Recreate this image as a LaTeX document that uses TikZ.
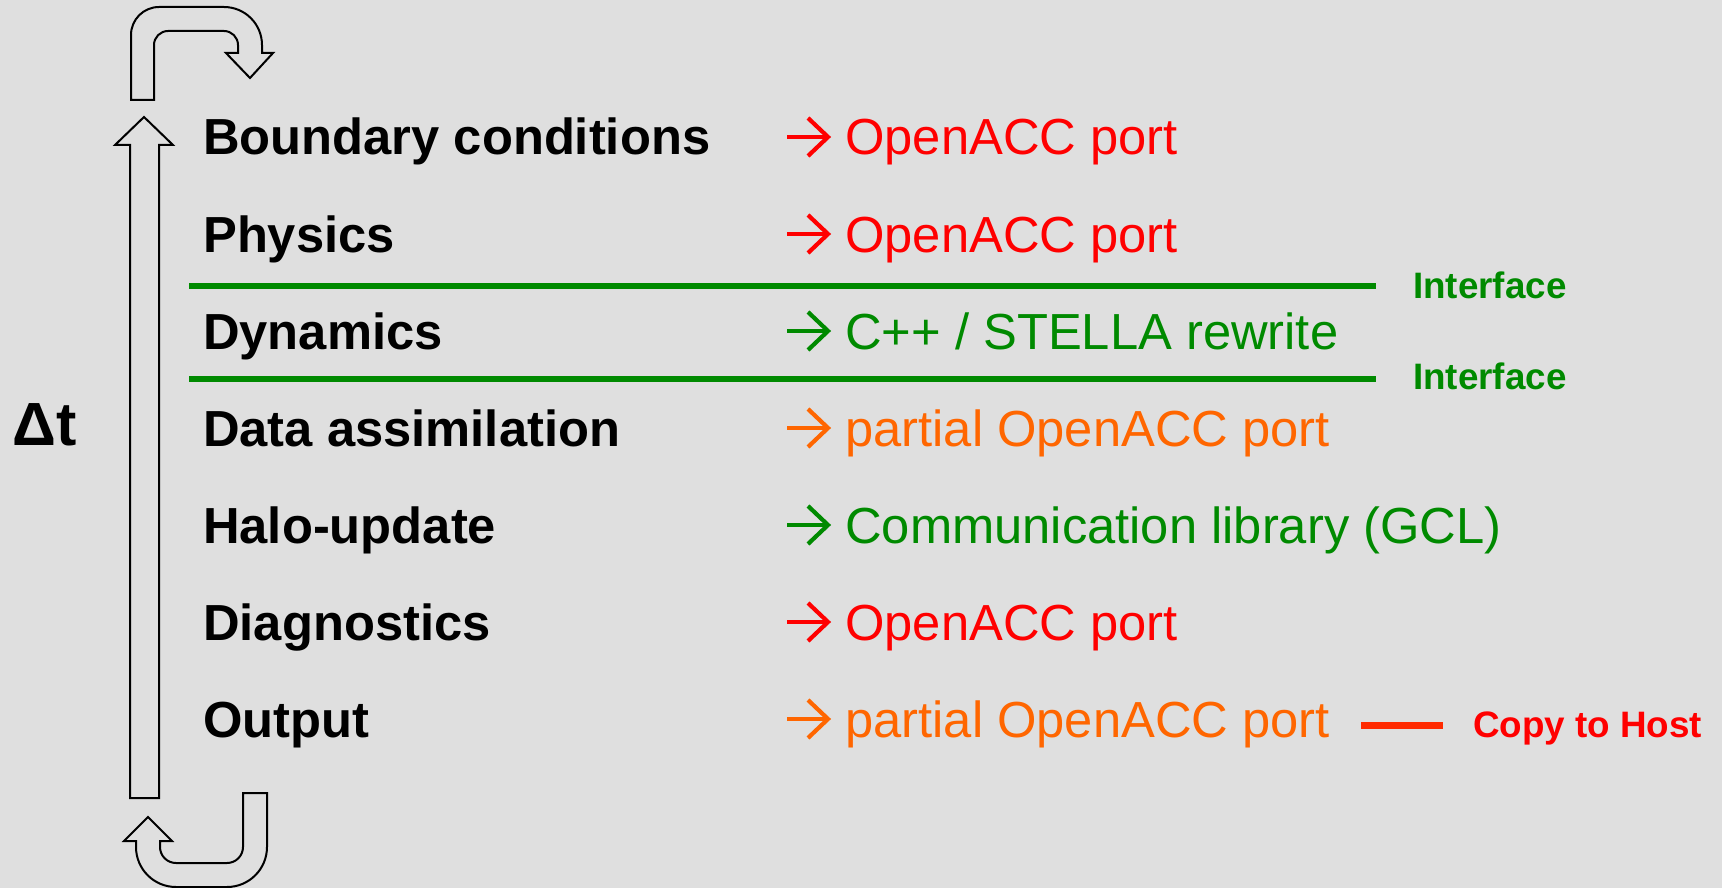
\documentclass[tikz,border=0pt]{standalone}
\usepackage{fontspec}
\setmainfont{Liberation Sans}
\definecolor{bg}{HTML}{DFDFDF}
\definecolor{cred}{HTML}{FF0000}
\definecolor{cgreen}{HTML}{008A00}
\definecolor{corange}{HTML}{FF6600}
\definecolor{cline}{HTML}{FF2A00}
\begin{document}
\begin{tikzpicture}[x=1pt,y=-1pt,
  lbl/.style={anchor=base west, inner sep=0pt, font=\fontsize{50.7}{60}\selectfont\bfseries},
  res/.style={anchor=base west, inner sep=0pt, font=\fontsize{50.7}{60}\selectfont},
  tag/.style={anchor=base west, inner sep=0pt, font=\fontsize{36.8}{44}\selectfont\bfseries},
  outl/.style={draw=black, line width=2pt, line join=miter},
  gline/.style={draw=cgreen, line width=6pt},
  rline/.style={draw=cline, line width=7pt},
  rarr/.pic={\draw[line width=4.2pt, line cap=butt, line join=miter] (0,0) -- (40,0);
             \draw[line width=4.2pt, line cap=butt, line join=miter] (21,-19) -- (41,0) -- (21,19);}]
\useasboundingbox[fill=bg] (0,0) rectangle (1722,888);

% loop arrows
\draw[outl] (130,798) -- (130,145) -- (115,145) -- (144,117) -- (173,145) -- (159,145) -- (159,798) -- cycle;
\draw[outl] (131,100) -- (131,35) arc[start angle=180, end angle=270, radius=28]
  -- (224,7) arc[start angle=270, end angle=360, radius=38]
  -- (262,53) -- (273,53) -- (250,78) -- (226,53) -- (238,53)
  -- (238,45) arc[start angle=0, end angle=-90, radius=14]
  -- (168,31) arc[start angle=270, end angle=180, radius=14]
  -- (154,100) -- cycle;
\draw[outl] (243,793) -- (267,793) -- (267,847) arc[start angle=0, end angle=90, radius=40]
  -- (176,887) arc[start angle=90, end angle=180, radius=40]
  -- (136,841) -- (124,841) -- (148,817) -- (172,841) -- (160,841)
  -- (160,847) arc[start angle=180, end angle=90, radius=16]
  -- (227,863) arc[start angle=90, end angle=0, radius=16] -- cycle;

\node[anchor=base west, inner sep=0pt, font=\fontsize{61}{70}\selectfont\bfseries] (dt) at (12,445) {Δt};

% left labels
\node[lbl] (b1) at (203,155) {Boundary conditions};
\node[lbl] (b2) at (203,252) {Physics};
\node[lbl] (b3) at (203,349) {Dynamics};
\node[lbl] (b4) at (203,446) {Data assimilation};
\node[lbl] (b5) at (203,543) {Halo-update};
\node[lbl] (b6) at (203,640) {Diagnostics};
\node[lbl] (b7) at (203,737) {Output};

% right results
\node[res, text=cred] (r1) at (845,155) {OpenACC port};
\node[res, text=cred] (r2) at (845,252) {OpenACC port};
\node[res, text=cgreen] (r3) at (845,349) {C++ / STELLA rewrite};
\node[res, text=corange] (r4) at (845,446) {partial OpenACC port};
\node[res, text=cgreen] (r5) at (845,543) {Communication library (GCL)};
\node[res, text=cred] (r6) at (845,640) {OpenACC port};
\node[res, text=corange] (r7) at (845,737) {partial OpenACC port};
\pic[draw=cred] at (787,137) {rarr};
\pic[draw=cred] at (787,234) {rarr};
\pic[draw=cgreen] at (787,331) {rarr};
\pic[draw=corange] at (787,428) {rarr};
\pic[draw=cgreen] at (787,525) {rarr};
\pic[draw=cred] at (787,622) {rarr};
\pic[draw=corange] at (787,719) {rarr};

% interfaces
\coordinate (g1a) at (189,285.5);
\coordinate (g1b) at (1376,285.5);
\coordinate (g2a) at (189,379);
\coordinate (g2b) at (1376,379);
\draw[gline] (g1a) -- (g1b);
\draw[gline] (g2a) -- (g2b);
\node[tag, text=cgreen] (i1) at (1413,298) {Interface};
\node[tag, text=cgreen] (i2) at (1413,389) {Interface};

% copy to host
\coordinate (h1) at (1361,725);
\coordinate (h2) at (1443,725);
\draw[rline] (h1) -- (h2);
\node[tag, text=cred] (cth) at (1473,737) {Copy to Host};
\end{tikzpicture}
\end{document}
